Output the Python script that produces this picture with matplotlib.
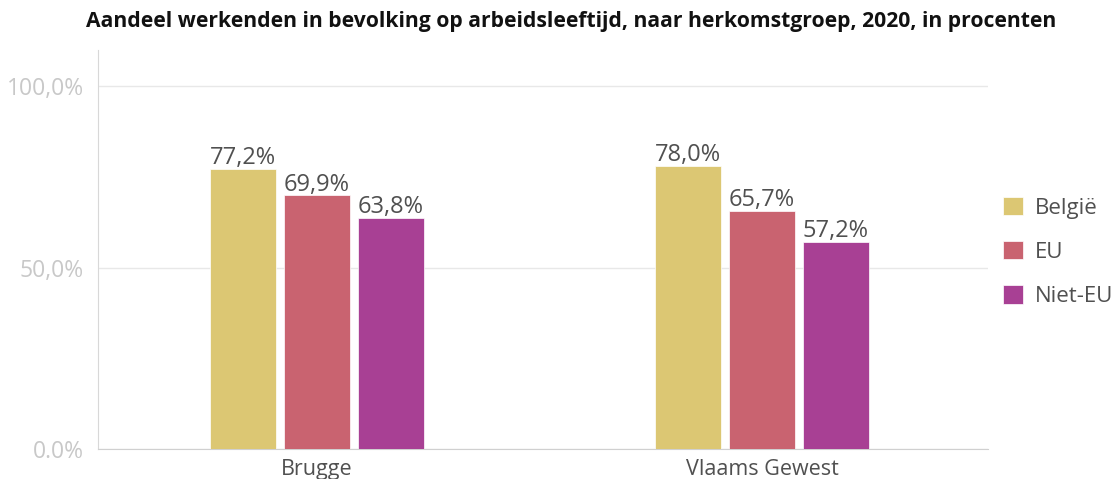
import matplotlib.pyplot as plt
import numpy as np

plt.rcParams['font.family'] = ['Open Sans', 'DejaVu Sans']

regions = ['Brugge', 'Vlaams Gewest']
groups = ['België', 'EU', 'Niet-EU']
values = {
    'België':  [77.2, 78.0],
    'EU':      [69.9, 65.7],
    'Niet-EU': [63.8, 57.2],
}
ytick_vals = [0, 50, 100]
ytick_labels = ['0.0%', '50,0%', '100,0%']

COLORS = {'België': '#dcc773', 'EU': '#c96370', 'Niet-EU': '#a84094'}

fig = plt.figure(figsize=(11.12, 4.79), dpi=100)
ax = fig.add_axes([0.0881, 0.0626, 0.8004, 0.833])

x = np.arange(len(regions))
width = 0.148
step = 0.166
for i, g in enumerate(groups):
    pos = x + (i - 1) * step
    bars = ax.bar(pos, values[g], width, color=COLORS[g], label=g,
                  edgecolor='white', linewidth=0.5, zorder=3)
    for b, v in zip(bars, values[g]):
        ax.text(b.get_x() + b.get_width() / 2, v - 0.3,
                f'{v:.1f}%'.replace('.', ','),
                ha='center', va='bottom', fontsize=17, color='#505050')

ax.set_xlim(-0.492, 1.508)
ax.set_ylim(0, 110)
ax.set_yticks(ytick_vals)
ax.set_yticklabels(ytick_labels, fontsize=16.5, color='#c8c8c8')
ax.set_xticks(x)
ax.set_xticklabels(regions, fontsize=15.5, color='#505050')
ax.tick_params(axis='x', length=0, pad=7)
ax.tick_params(axis='y', length=0, pad=10)
ax.grid(axis='y', color='#e8e8e8', linewidth=1, zorder=0)
for s in ['top', 'right']:
    ax.spines[s].set_visible(False)
ax.spines['left'].set_color('#d8d8d8')
ax.spines['bottom'].set_color('#d0d0d0')

fig.text(0.514, 0.955, 'Aandeel werkenden in bevolking op arbeidsleeftijd, naar herkomstgroep, 2020, in procenten',
         ha='center', va='center', fontsize=15.2, fontweight='bold', color='#111111')

fig.legend(loc='center left', bbox_to_anchor=(0.902, 0.474), frameon=False,
           fontsize=16, handlelength=0.9, handleheight=0.9, labelspacing=1.0,
           handletextpad=0.55, borderpad=0, borderaxespad=0,
           labelcolor='#505050')

fig.savefig('out.png', dpi=100)
